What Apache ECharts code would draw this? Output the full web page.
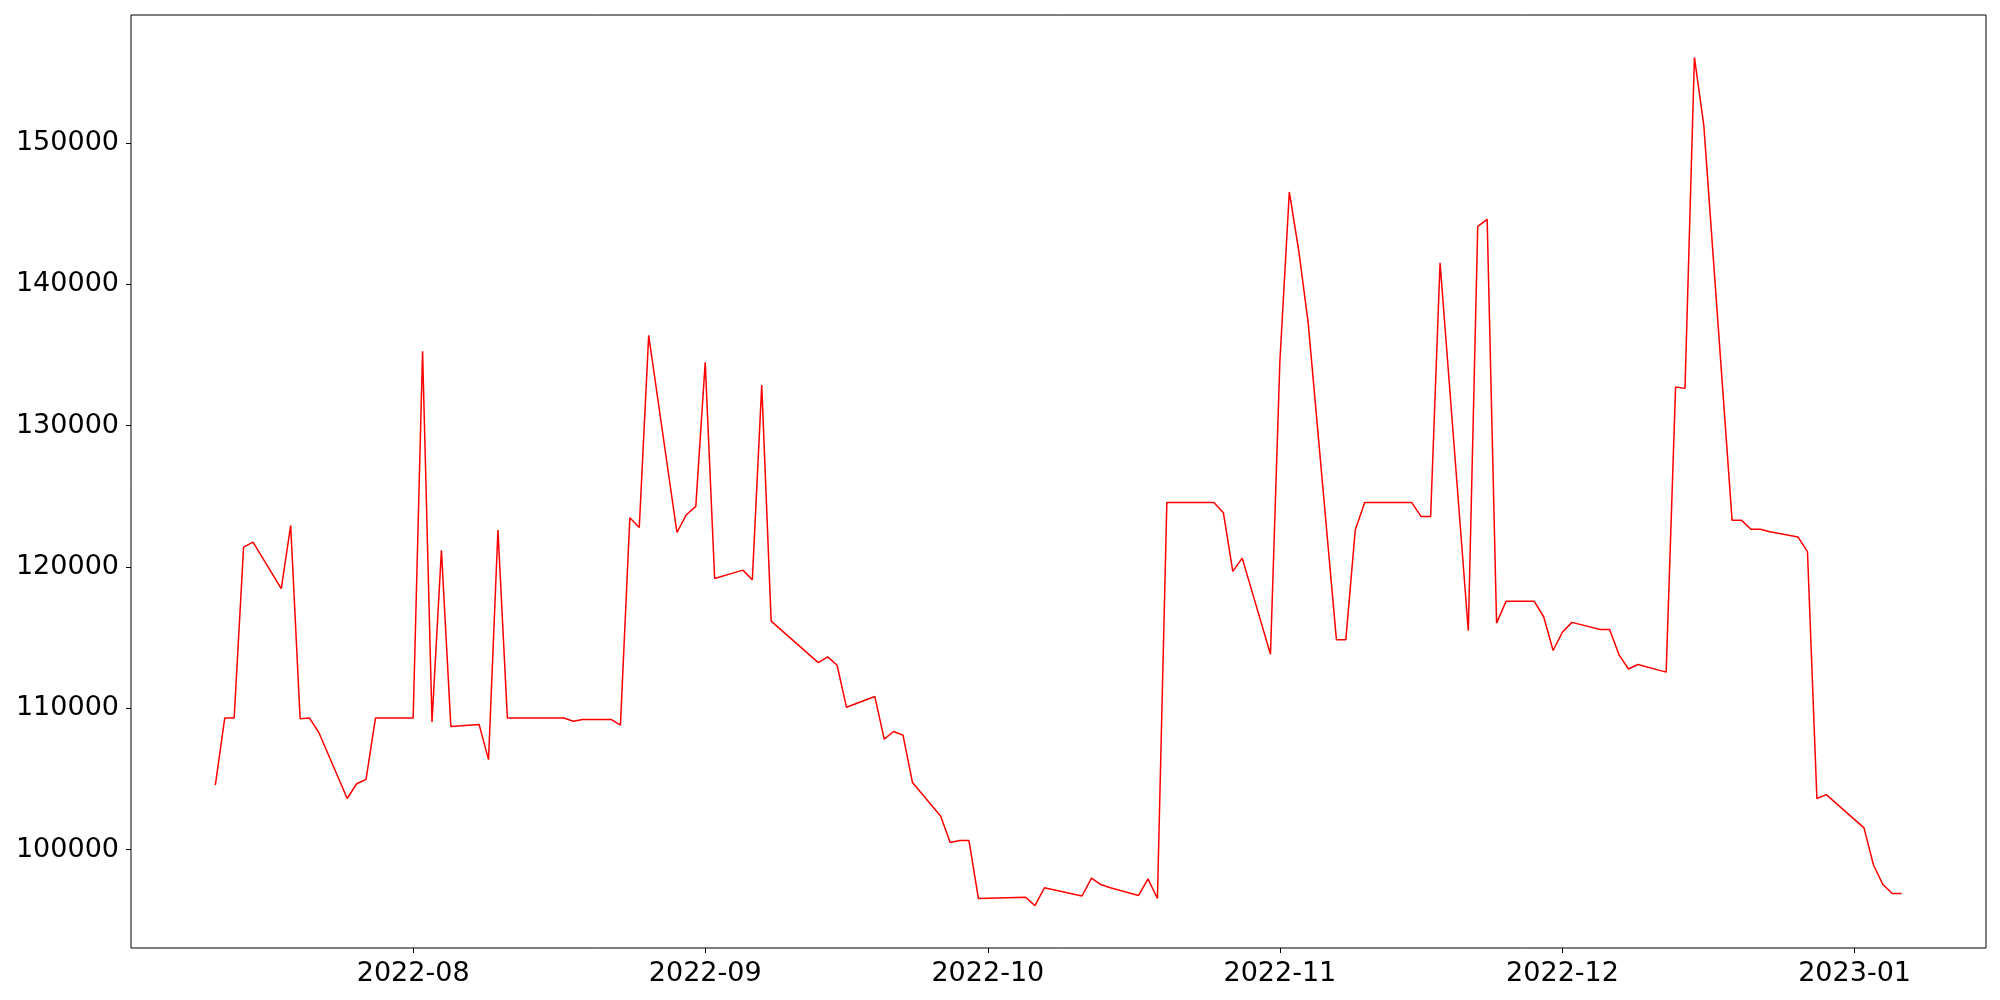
<!DOCTYPE html>
<html>
<head>
<meta charset="utf-8">
<script src="https://cdn.jsdelivr.net/npm/echarts@6/dist/echarts.min.js"></script>
<style>
html,body{margin:0;padding:0;background:#fff;}
#chart{width:2000px;height:1000px;}
</style>
</head>
<body>
<div id="chart"></div>
<script>
var dates = ['2022-07-11','2022-07-12','2022-07-13','2022-07-14','2022-07-15','2022-07-18','2022-07-19','2022-07-20','2022-07-21','2022-07-22',
'2022-07-25','2022-07-26','2022-07-27','2022-07-28','2022-07-29','2022-08-01','2022-08-02','2022-08-03','2022-08-04','2022-08-05',
'2022-08-08','2022-08-09','2022-08-10','2022-08-11','2022-08-12','2022-08-15','2022-08-16','2022-08-17','2022-08-18','2022-08-19',
'2022-08-22','2022-08-23','2022-08-24','2022-08-25','2022-08-26','2022-08-29','2022-08-30','2022-08-31','2022-09-01','2022-09-02',
'2022-09-05','2022-09-06','2022-09-07','2022-09-08','2022-09-13','2022-09-14','2022-09-15','2022-09-16','2022-09-19','2022-09-20',
'2022-09-21','2022-09-22','2022-09-23','2022-09-26','2022-09-27','2022-09-28','2022-09-29','2022-09-30','2022-10-05','2022-10-06',
'2022-10-07','2022-10-11','2022-10-12','2022-10-13','2022-10-14','2022-10-17','2022-10-18','2022-10-19','2022-10-20','2022-10-21',
'2022-10-24','2022-10-25','2022-10-26','2022-10-27','2022-10-28','2022-10-31','2022-11-01','2022-11-02','2022-11-03','2022-11-04',
'2022-11-07','2022-11-08','2022-11-09','2022-11-10','2022-11-11','2022-11-14','2022-11-15','2022-11-16','2022-11-17','2022-11-18',
'2022-11-21','2022-11-22','2022-11-23','2022-11-24','2022-11-25','2022-11-28','2022-11-29','2022-11-30','2022-12-01','2022-12-02',
'2022-12-05','2022-12-06','2022-12-07','2022-12-08','2022-12-09','2022-12-12','2022-12-13','2022-12-14','2022-12-15','2022-12-16',
'2022-12-19','2022-12-20','2022-12-21','2022-12-22','2022-12-23','2022-12-26','2022-12-27','2022-12-28','2022-12-29','2023-01-02',
'2023-01-03','2023-01-04','2023-01-05','2023-01-06'];

var values = [104560,109300,109300,121390,121750,118460,122930,109250,109300,108260,
103610,104650,104960,109300,109300,109300,135250,109030,121170,108710,
108850,106360,122610,109300,109300,109300,109300,109300,109070,109200,
109200,108800,123470,122790,136380,122430,123690,124280,134480,119180,
119770,119090,132860,116160,113220,113630,113040,110060,110830,107810,
108350,108080,104740,102350,100500,100630,100630,96530,96620,96030,
97290,96710,97970,97520,97290,96750,97920,96530,124550,124550,
124550,124550,123830,119680,120620,113810,134570,146530,142380,137280,
114850,114850,122610,124550,124550,124550,124550,123560,123560,141520,
115480,144090,144590,116020,117560,117560,116470,114080,115390,116070,
115570,115570,113770,112770,113090,112550,132720,132630,156050,151220,
123290,123290,122660,122660,122480,122110,121080,103610,103880,101530,
98920,97520,96890,96890];

var xTickDates = ['2022-08-01','2022-09-01','2022-10-01','2022-11-01','2022-12-01','2023-01-01'];
var xTickLabels = ['2022-08','2022-09','2022-10','2022-11','2022-12','2023-01'];
var yTickValues = [100000,110000,120000,130000,140000,150000];

function ts(s){ var p = s.split('-'); return Date.UTC(+p[0], +p[1]-1, +p[2]); }

var points = dates.map(function(d,i){ return [ts(d), values[i]]; });
var xTicks = xTickDates.map(ts);
var labelMap = {};
xTicks.forEach(function(t,i){ labelMap[t] = xTickLabels[i]; });

var xMinD = ts(dates[0]), xMaxD = ts(dates[dates.length-1]);
var xPad = (xMaxD - xMinD) * 0.05;
var yMinD = Math.min.apply(null, values), yMaxD = Math.max.apply(null, values);
var yPad = (yMaxD - yMinD) * 0.05;

var font = "'DejaVu Sans', sans-serif";
var chart = echarts.init(document.getElementById('chart'));
chart.setOption({
  animation: false,
  backgroundColor: '#ffffff',
  grid: {left: 131, right: 14, top: 15, bottom: 52, show: true, borderColor: '#000', borderWidth: 1, backgroundColor: 'transparent'},
  xAxis: {
    type: 'value',
    min: xMinD - xPad,
    max: xMaxD + xPad,
    axisLine: {show: false},
    splitLine: {show: false},
    axisTick: {show: true, length: 5, lineStyle: {color: '#000', width: 1}, customValues: xTicks},
    axisLabel: {
      show: true, margin: 12, color: '#000', fontSize: 27, fontFamily: font,
      customValues: xTicks,
      formatter: function(v){ return labelMap[v] || ''; }
    }
  },
  yAxis: {
    type: 'value',
    min: yMinD - yPad,
    max: yMaxD + yPad,
    axisLine: {show: false},
    splitLine: {show: false},
    axisTick: {show: true, length: 5, lineStyle: {color: '#000', width: 1}, customValues: yTickValues},
    axisLabel: {
      show: true, margin: 12, color: '#000', fontSize: 27, fontFamily: font,
      customValues: yTickValues,
      formatter: function(v){ return String(v); }
    }
  },
  series: [{
    type: 'line',
    data: points,
    showSymbol: false,
    symbol: 'none',
    lineStyle: {color: '#ff0000', width: 1.5},
    itemStyle: {color: '#ff0000'}
  }]
});
</script>
</body>
</html>
